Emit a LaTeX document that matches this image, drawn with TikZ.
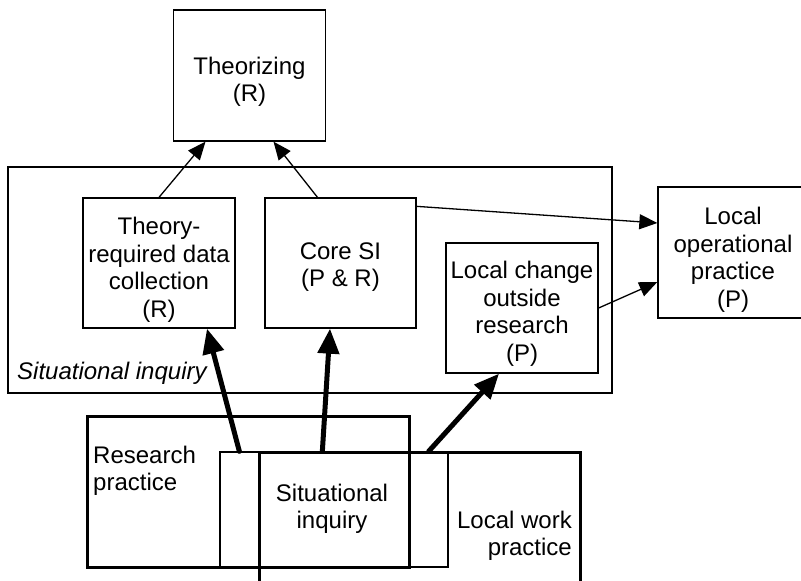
\documentclass[tikz,border=0pt]{standalone}
\usepackage{fontspec}
\setmainfont{Liberation Sans}
\usetikzlibrary{arrows.meta}
\begin{document}
\begin{tikzpicture}[x=1pt,y=-1pt,
  box/.style={draw, line width=1.3pt, inner sep=0pt},
  thickbox/.style={draw, line width=3pt, inner sep=0pt},
  arr/.style={line width=1.3pt, -{Triangle[length=18pt,width=15pt]}},
  bigarr/.style={line width=5pt, line cap=round, -{Triangle[length=25pt,width=21pt]}},
  lbl/.style={inner sep=0pt, align=center, font=\fontsize{24}{27.5}\selectfont}]
\useasboundingbox (0,0) rectangle (801,581);
\clip (0,0) rectangle (801,581);
% top part
\node[box, minimum width=152pt, minimum height=131pt] (theo) at (249.5,75.5) {};
\node[lbl] (theot) at (249.5,82) {Theorizing\\(R)};
\node[box, minimum width=604pt, minimum height=226pt] (si) at (310,280) {};
\node[lbl, anchor=west, font=\fontsize{24}{27.5}\selectfont\itshape] (silbl) at (17,373) {Situational inquiry};
\node[box, minimum width=152pt, minimum height=130pt] (tdc) at (159,263) {};
\node[lbl] (tdct) at (159,270) {Theory-\\required data\\collection\\(R)};
\node[box, minimum width=151pt, minimum height=130pt] (core) at (340.5,263) {};
\node[lbl] (coret) at (340.5,267) {Core SI\\(P \& R)};
\node[box, minimum width=152pt, minimum height=130pt] (lc) at (522,308) {};
\node[lbl] (lct) at (522,314) {Local change\\outside\\research\\(P)};
\node[box, minimum width=150pt, minimum height=131pt] (lop) at (733,252.5) {};
\node[lbl] (lopt) at (733,260) {Local\\operational\\practice\\(P)};
% bottom part
\node[thickbox, minimum width=322pt, minimum height=151pt] (rp) at (248,491.5) {};
\node[box, minimum width=228pt, minimum height=115pt] (sibox) at (334,509.5) {};
\node[thickbox, minimum width=321pt, minimum height=168pt] (lwp) at (419.5,536) {};
\node[lbl, anchor=west, align=left] (rpl) at (93,471) {Research\\practice};
\node[lbl] (sil) at (332,509) {Situational\\inquiry};
\node[lbl, anchor=east, align=right] (lwpl) at (572,536) {Local work\\practice};
% connectors
\draw[arr] (tdc.north) -- ([xshift=-44pt]theo.south);
\draw[arr] ([xshift=-23pt]core.north) -- ([xshift=24pt]theo.south);
\draw[arr] ([yshift=-9pt]core.north east) -- ([yshift=29.5pt]lop.west);
\draw[arr] (lc.east) -- ([yshift=-29.5pt]lop.west);
\draw[bigarr] ([xshift=20pt]sibox.north west) -- ([xshift=48pt]tdc.south);
\draw[bigarr] ([xshift=103pt]sibox.north west) -- ([xshift=-10.5pt]core.south);
\draw[bigarr] ([xshift=-20pt]sibox.north east) -- ([xshift=-23pt]lc.south);
\end{tikzpicture}
\end{document}
